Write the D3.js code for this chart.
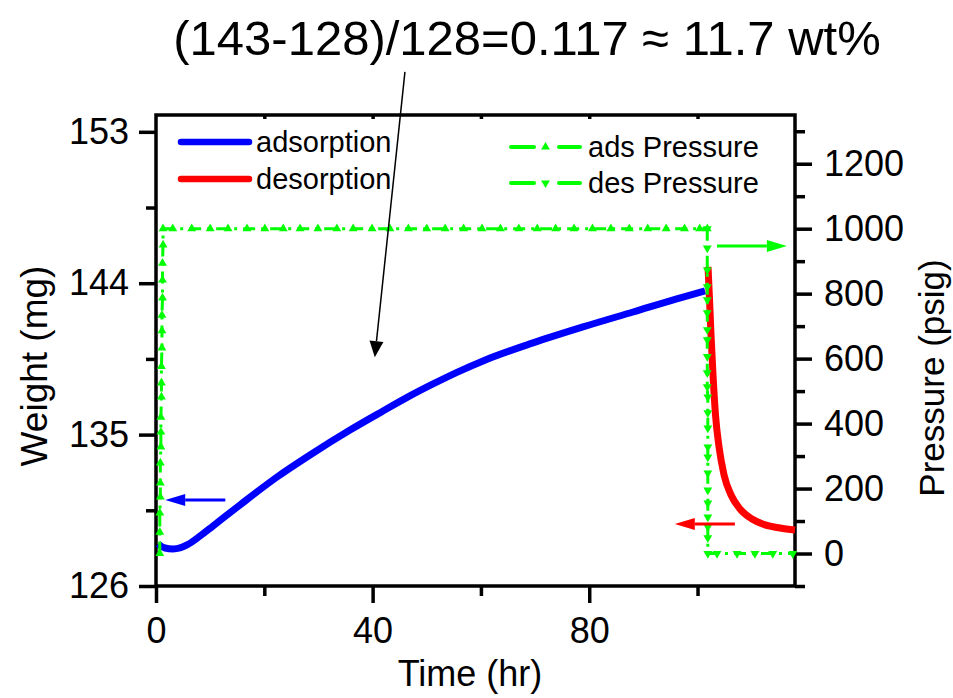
<!DOCTYPE html>
<html>
<head>
<meta charset="utf-8">
<script src="https://cdn.jsdelivr.net/npm/d3@7"></script>
<style>
body { margin: 0; background: #fff; }
text { font-family: "Liberation Sans", Arial, sans-serif; fill: #000; }
</style>
</head>
<body>
<div id="chart"></div>
<script>
var w = 953;
var h = 698;

// adsorption weight (mg) vs time (hr)
var adsTime   = [0.37, 1.66, 3.14, 4.43, 5.72, 8.13, 10.53, 15.51, 22.35, 28.44, 35.83, 41.92, 46.54, 51.16,
                 55.77, 60.39, 69.62, 78.85, 88.09, 97.32, 101.39];
var adsWeight = [128.5, 128.26, 128.2, 128.26, 128.44, 128.97, 129.57, 130.82, 132.48, 133.79, 135.27, 136.4,
                 137.24, 138.01, 138.73, 139.38, 140.45, 141.4, 142.29, 143.18, 143.54];

// desorption weight
var desTime   = [101.94, 102.22, 102.49, 102.86, 103.32, 103.97, 104.9, 106.19, 107.85, 110.07, 112.47, 115.24, 118.01];
var desWeight = [144.97, 143.01, 140.93, 138.55, 136.17, 134.27, 132.6, 131.41, 130.58, 129.98, 129.63, 129.45, 129.33];

// ads pressure (psig)
var adsPTime = [0.7, 0.7, 0.7, 0.8, 0.8, 0.8, 0.9, 0.9, 0.9, 1.0, 1.0, 1.0, 1.1, 1.1, 1.1, 1.2, 1.2, 1.2, 1.3, 1.3,
                3.1, 6.6, 10.0, 13.3, 16.8, 20.1, 23.5, 26.6, 29.9, 33.4, 36.4, 39.9, 43.2, 46.6, 50.0, 53.4, 56.8,
                60.2, 63.6, 67.0, 70.4, 73.8, 77.2, 80.6, 84.0, 87.4, 90.8, 94.2, 97.6, 100.4, 101.8];
var adsPress = [0, 66, 125, 174, 217, 279, 328, 374, 420, 482, 525, 576, 633, 686, 734, 787, 842, 894, 950, 1000,
                1000, 1000, 1000, 1000, 1000, 1000, 1000, 1000, 1000, 1000, 1000, 1000, 1000, 1000, 1000, 1000, 1000,
                1000, 1000, 1000, 1000, 1000, 1000, 1000, 1000, 1000, 1000, 1000, 1000, 1000, 1000];

// des pressure
var desPTime = [101.8, 101.8, 101.8, 101.8, 101.8, 101.8, 101.8, 101.8, 101.8, 101.8, 101.8, 101.9, 101.9, 101.9,
                101.9, 101.9, 101.9, 101.9, 101.9, 101.9, 101.9, 101.9, 101.9, 103.6, 107.3, 110.6, 113.9, 117.6];
var desPress = [1000, 940, 873, 821, 781, 741, 689, 658, 606, 556, 513, 482, 433, 386, 328, 297, 248, 195, 155,
                112, 82, 48, 0, 0, 0, 0, 0, 0];

// ticks
var xMajor = [0, 40, 80];
var xMinor = [20, 60, 100];
var xTop = [20, 40, 60, 80, 100];
var yLMajor = [126, 135, 144, 153];
var yLMinor = [130.5, 139.5, 148.5];
var yRMajor = [0, 200, 400, 600, 800, 1000, 1200];
var yRMinor = [-100, 100, 300, 500, 700, 900, 1100, 1300];

var titleText = "(143-128)/128=0.117 \u2248 11.7 wt%";

var svg = d3.select("#chart")
            .append("svg")
            .attr("width", w)
            .attr("height", h);

var x = d3.scaleLinear().domain([0, 118]).range([156, 795]);
var yL = d3.scaleLinear().domain([126, 154]).range([586, 115]);
var yR = d3.scaleLinear().domain([-100, 1350]).range([586, 115]);

var green = "#00ff00";

// frame
svg.append("rect")
    .attr("x", 156).attr("y", 115)
    .attr("width", 639).attr("height", 471)
    .attr("fill", "none")
    .attr("stroke", "#000")
    .attr("stroke-width", 3.5);

// axes
function styleAxis(g) {
    g.select(".domain").remove();
    g.selectAll(".tick line").attr("stroke", "#000").attr("stroke-width", 3.5);
    g.selectAll(".tick text").style("font-size", "36px");
}

svg.append("g")
    .attr("transform", "translate(0,586)")
    .call(d3.axisBottom(x).tickValues(xMajor).tickSize(17).tickPadding(14).tickFormat(d3.format("d")))
    .call(styleAxis);
svg.append("g")
    .attr("transform", "translate(0,586)")
    .call(d3.axisBottom(x).tickValues(xMinor).tickSize(10).tickFormat(""))
    .call(styleAxis);
svg.append("g")
    .attr("transform", "translate(0,115)")
    .call(d3.axisBottom(x).tickValues(xTop).tickSize(4).tickFormat(""))
    .call(styleAxis);

svg.append("g")
    .attr("transform", "translate(156,0)")
    .call(d3.axisLeft(yL).tickValues(yLMajor).tickSize(17).tickPadding(10).tickFormat(d3.format("d")))
    .call(styleAxis);
svg.append("g")
    .attr("transform", "translate(156,0)")
    .call(d3.axisLeft(yL).tickValues(yLMinor).tickSize(10).tickFormat(""))
    .call(styleAxis);

svg.append("g")
    .attr("transform", "translate(795,0)")
    .call(d3.axisRight(yR).tickValues(yRMajor).tickSize(17).tickPadding(12).tickFormat(d3.format("d")))
    .call(styleAxis);
svg.append("g")
    .attr("transform", "translate(795,0)")
    .call(d3.axisRight(yR).tickValues(yRMinor).tickSize(10).tickFormat(""))
    .call(styleAxis);

// axis titles
svg.append("text")
    .attr("x", 470).attr("y", 686)
    .attr("text-anchor", "middle")
    .style("font-size", "36px")
    .text("Time (hr)");
svg.append("text")
    .attr("transform", "translate(47,366) rotate(-90)")
    .attr("text-anchor", "middle")
    .style("font-size", "37px")
    .text("Weight (mg)");
svg.append("text")
    .attr("transform", "translate(944,378) rotate(-90)")
    .attr("text-anchor", "middle")
    .style("font-size", "35px")
    .text("Pressure (psig)");

// weight curves
var adsData = adsTime.map((t, i) => [t, adsWeight[i]]);
var desData = desTime.map((t, i) => [t, desWeight[i]]);
var wLine = d3.line()
    .x(d => x(d[0]))
    .y(d => yL(d[1]))
    .curve(d3.curveMonotoneX);

svg.append("path")
    .attr("d", wLine(adsData))
    .attr("fill", "none")
    .attr("stroke", "#0000ff")
    .attr("stroke-width", 7)
    .attr("stroke-linejoin", "round");
svg.append("path")
    .attr("d", wLine(desData))
    .attr("fill", "none")
    .attr("stroke", "#ff0000")
    .attr("stroke-width", 7)
    .attr("stroke-linejoin", "round");

// pressure curves
var adsP = adsPTime.map((t, i) => [t, adsPress[i]]);
var desP = desPTime.map((t, i) => [t, desPress[i]]);
var pLine = d3.line()
    .x(d => x(d[0]))
    .y(d => yR(d[1]));

var tri = d3.symbol().type(d3.symbolTriangle).size(34);

function pressureSeries(data, rot) {
    svg.append("path")
        .attr("d", pLine(data))
        .attr("fill", "none")
        .attr("stroke", green)
        .attr("stroke-width", 3)
        .attr("stroke-dasharray", "12,6,3,6");
    svg.append("g")
        .selectAll("path")
        .data(data)
        .enter()
        .append("path")
        .attr("d", tri)
        .attr("transform", d => "translate(" + x(d[0]) + "," + yR(d[1]) + ") rotate(" + rot + ")")
        .attr("fill", green);
}
pressureSeries(adsP, 0);
pressureSeries(desP, 180);

// arrows
function arrow(x1, y1, x2, y2, color, lw, headLen, headW) {
    var ang = Math.atan2(y2 - y1, x2 - x1);
    var bx = x2 - headLen * Math.cos(ang), by = y2 - headLen * Math.sin(ang);
    svg.append("line")
        .attr("x1", x1).attr("y1", y1)
        .attr("x2", bx).attr("y2", by)
        .attr("stroke", color)
        .attr("stroke-width", lw);
    var px = -Math.sin(ang) * headW, py = Math.cos(ang) * headW;
    svg.append("path")
        .attr("d", "M" + x2 + "," + y2 + "L" + (bx + px) + "," + (by + py) + "L" + (bx - px) + "," + (by - py) + "Z")
        .attr("fill", color);
}
arrow(x(12.8), yL(131.11), x(1.7), yL(131.11), "#0000ff", 3, 20, 6);
arrow(x(106.9), yL(129.69), x(95.8), yL(129.69), "#ff0000", 3, 20, 6);
arrow(x(103.6), yR(947), x(116.5), yR(947), green, 3, 20, 6);
arrow(x(45.97), yL(156.56), x(40.4), yL(139.6), "#000", 1.5, 16, 7);

// title annotation
svg.append("text")
    .attr("x", 527).attr("y", 55)
    .attr("text-anchor", "middle")
    .style("font-size", "49px")
    .text(titleText);

// legend left
var legL = [["adsorption", "#0000ff", 142], ["desorption", "#ff0000", 179]];
legL.forEach(function(d) {
    svg.append("line")
        .attr("x1", 181).attr("x2", 249)
        .attr("y1", d[2]).attr("y2", d[2])
        .attr("stroke", d[1])
        .attr("stroke-width", 6.5)
        .attr("stroke-linecap", "round");
    svg.append("text")
        .attr("x", 256).attr("y", d[2] + 10)
        .style("font-size", "29px")
        .text(d[0]);
});

// legend right
var legR = [["ads Pressure", 0, 147], ["des Pressure", 180, 183]];
legR.forEach(function(d) {
    svg.append("line")
        .attr("x1", 511).attr("x2", 580)
        .attr("y1", d[2]).attr("y2", d[2])
        .attr("stroke", green)
        .attr("stroke-width", 4)
        .attr("stroke-linecap", "round")
        .attr("stroke-dasharray", "23,25");
    svg.append("path")
        .attr("d", tri)
        .attr("transform", "translate(545.5," + d[2] + ") rotate(" + d[1] + ")")
        .attr("fill", green);
    svg.append("text")
        .attr("x", 588).attr("y", d[2] + 10)
        .style("font-size", "29px")
        .text(d[0]);
});
</script>
</body>
</html>
